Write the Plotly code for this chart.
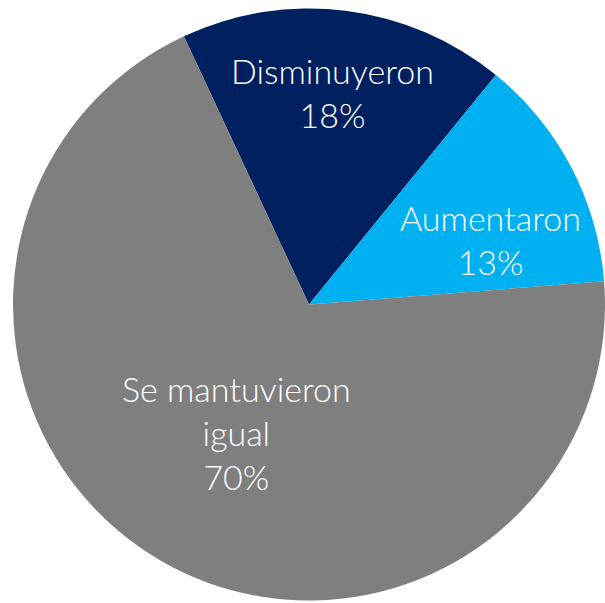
import plotly.graph_objects as go

labels = ["Disminuyeron", "Aumentaron", "Se mantuvieron igual"]
values = [18, 13, 70]
label_lines = ["Disminuyeron", "Aumentaron", "Se mantuvieron<br>igual"]
pct_labels = ["18%", "13%", "70%"]
colors = ["#002060", "#00B0F0", "#7F7F7F"]

W, H = 605, 603
ML, MR, MT, MB = 13, 0, 6, 0
PW, PH = W - ML - MR, H - MT - MB

# label centres in page pixels
label_px = [(332, 93), (490, 240), (236, 432)]

fig = go.Figure(go.Pie(
    labels=labels,
    values=values,
    textinfo="none",
    sort=False,
    direction="clockwise",
    rotation=-25,
    marker=dict(colors=colors, line=dict(width=0)),
    hoverinfo="label+percent",
))

for name, pct, (px, py) in zip(label_lines, pct_labels, label_px):
    fig.add_annotation(
        x=(px - ML) / PW,
        y=1 - (py - MT) / PH,
        xref="paper", yref="paper",
        text=f"{name}<br>{pct}",
        showarrow=False,
        xanchor="center", yanchor="middle", align="center",
        font=dict(family="Lato", size=34, color="white", weight=300),
    )

fig.update_layout(
    width=W, height=H,
    margin=dict(l=ML, r=MR, t=MT, b=MB),
    showlegend=False,
    paper_bgcolor="white",
)
fig.write_html(
    "out.html",
    config={"displayModeBar": False},
    post_script="document.body.style.margin='0';document.body.style.overflow='hidden';",
)
